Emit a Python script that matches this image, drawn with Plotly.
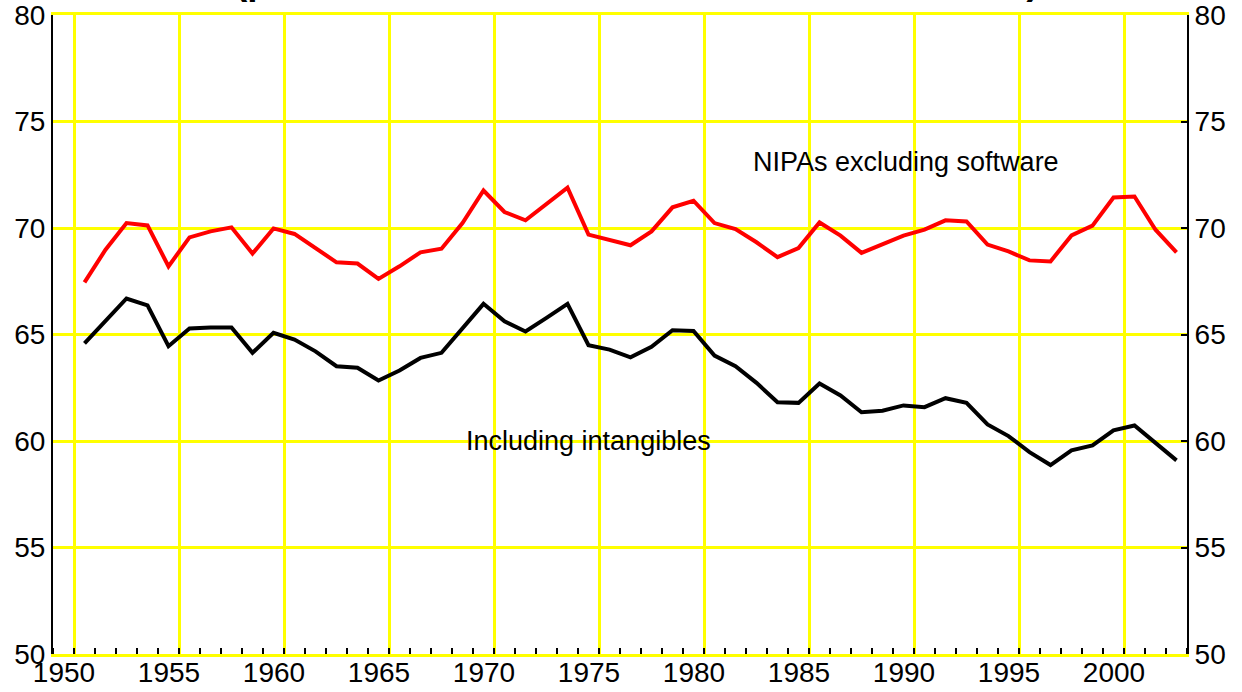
import plotly.graph_objects as go

years = list(range(1951, 2004))

nipa_excl_software = [
    67.45, 68.98, 70.23, 70.12, 68.20, 69.56, 69.84, 70.03, 68.80, 69.98,
    69.72, 69.06, 68.39, 68.33, 67.61, 68.20, 68.86, 69.03, 70.23, 71.76,
    70.75, 70.36, 71.12, 71.89, 69.69, 69.45, 69.19, 69.84, 70.97, 71.28,
    70.23, 69.95, 69.33, 68.63, 69.06, 70.26, 69.64, 68.83, 69.22, 69.64,
    69.92, 70.36, 70.31, 69.22, 68.90, 68.48, 68.43, 69.65, 70.11, 71.43,
    71.48, 69.92, 68.86,
]

including_intangibles = [
    64.58, 65.67, 66.69, 66.37, 64.45, 65.28, 65.33, 65.33, 64.14, 65.08,
    64.76, 64.21, 63.51, 63.44, 62.84, 63.31, 63.90, 64.14, 65.26, 66.44,
    65.62, 65.14, 65.78, 66.44, 64.50, 64.29, 63.93, 64.42, 65.20, 65.17,
    64.01, 63.51, 62.73, 61.82, 61.79, 62.70, 62.14, 61.35, 61.42, 61.67,
    61.59, 62.01, 61.79, 60.78, 60.23, 59.48, 58.87, 59.56, 59.79, 60.50,
    60.73, 59.92, 59.09,
]

x_label_years = list(range(1950, 2001, 5))
x_grid_vals = [y + 0.5 for y in x_label_years]
y_ticks = [50, 55, 60, 65, 70, 75, 80]

FONT = "Liberation Sans, Arial, sans-serif"
YELLOW = "#FFFF00"
TICK_SIZE = 28

fig = go.Figure()
fig.add_trace(go.Scatter(x=years, y=nipa_excl_software, mode="lines",
                         line=dict(color="#FF0000", width=4),
                         name="NIPAs excluding software", yaxis="y"))
fig.add_trace(go.Scatter(x=years, y=including_intangibles, mode="lines",
                         line=dict(color="#000000", width=4),
                         name="Including intangibles", yaxis="y2"))

fig.update_layout(
    width=1242, height=692,
    margin=dict(l=53, r=55, t=15, b=38, autoexpand=False),
    paper_bgcolor="white", plot_bgcolor="white",
    showlegend=False,
    font=dict(family=FONT, size=27, color="black"),
    xaxis=dict(
        range=[1949.5, 2003.5], automargin=False,
        tickmode="array", tickvals=x_grid_vals,
        ticktext=[str(y) for y in x_label_years],
        ticklabelshift=-10, ticklabelstandoff=-9, ticklabeloverflow="allow",
        ticks="",
        showgrid=True, gridcolor=YELLOW, gridwidth=3,
        showline=True, linecolor=YELLOW, linewidth=3, mirror=True,
        zeroline=False,
        minor=dict(tick0=1949.5, dtick=1, ticks="inside", ticklen=6,
                   tickwidth=2, tickcolor="black", showgrid=False),
        tickfont=dict(size=TICK_SIZE, family=FONT),
    ),
    yaxis=dict(
        range=[50, 80], tickmode="array", tickvals=y_ticks, automargin=False,
        ticklabeloverflow="allow",
        showgrid=True, gridcolor=YELLOW, gridwidth=3,
        showline=True, linecolor="black", linewidth=2,
        ticks="", zeroline=False,
        tickfont=dict(size=TICK_SIZE, family=FONT),
    ),
    yaxis2=dict(
        range=[50, 80], tickmode="array", tickvals=y_ticks, automargin=False,
        ticklabeloverflow="allow",
        overlaying="y", side="right",
        showgrid=False, showline=True, linecolor="black", linewidth=2,
        ticks="inside", ticklen=6, tickwidth=2, tickcolor="black",
        zeroline=False,
        tickfont=dict(size=TICK_SIZE, family=FONT),
    ),
    annotations=[
        dict(x=1990.1, y=73.1, xref="x", yref="y", text="NIPAs excluding software",
             showarrow=False, font=dict(size=27, family=FONT, color="black"),
             xanchor="center", yanchor="middle"),
        dict(x=1975.0, y=60.0, xref="x", yref="y", text="Including intangibles",
             showarrow=False, font=dict(size=27, family=FONT, color="black"),
             xanchor="center", yanchor="middle"),
        dict(x=0.515, y=1, xref="paper", yref="paper", yshift=11,
             text="<b>(percent of income, nonfarm business sector)</b>",
             showarrow=False, font=dict(size=37, family=FONT, color="black"),
             xanchor="center", yanchor="bottom"),
    ],
)

fig.write_html("out.html", config={"displayModeBar": False},
               post_script="document.body.style.margin='0px';document.body.style.padding='0px';")
